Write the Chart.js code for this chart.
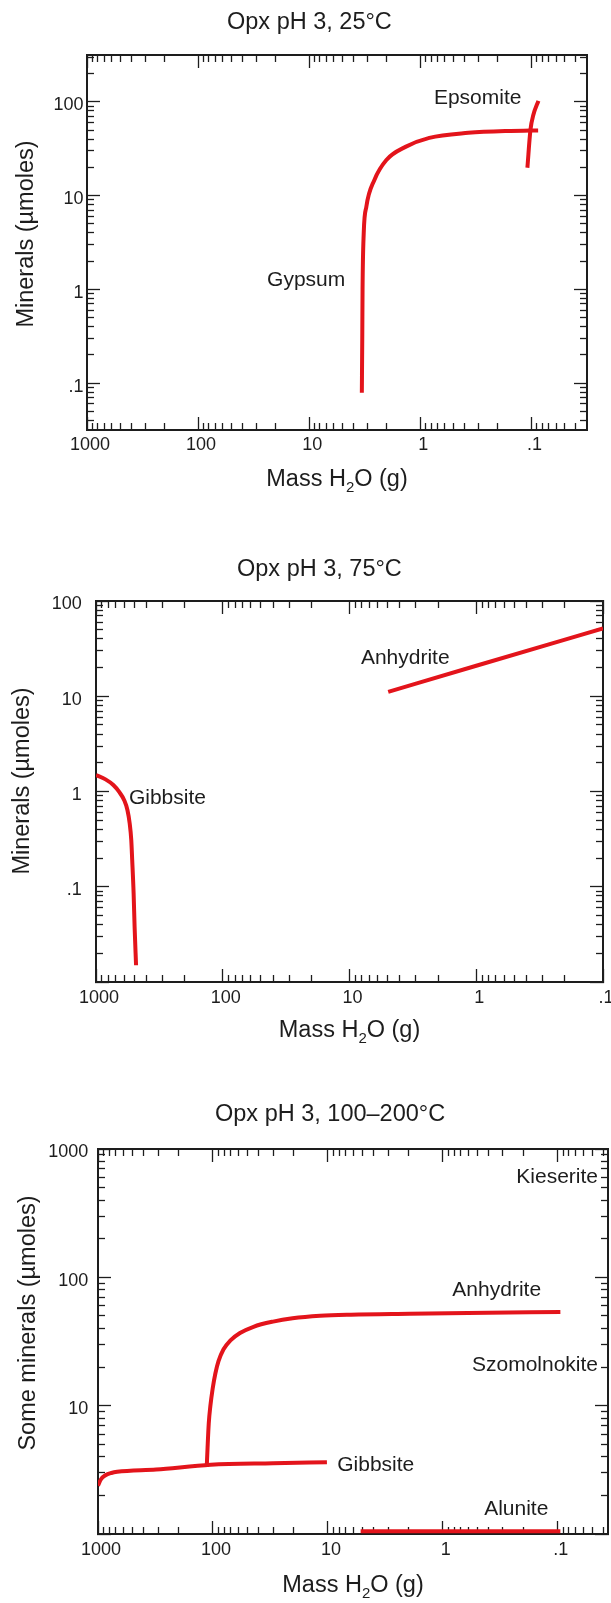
<!DOCTYPE html>
<html>
<head>
<meta charset="utf-8">
<title>Opx pH 3 – mineral precipitation</title>
<script src="https://cdn.jsdelivr.net/npm/chart.js@4.4.1/dist/chart.umd.min.js"></script>
<style>
  html, body { margin: 0; padding: 0; background: #fff; }
  #page { position: relative; width: 611px; height: 1603px; overflow: hidden; }
  #page canvas { position: absolute; left: 0; }
</style>
</head>
<body>
<div id="page">
  <canvas id="c25" width="611" height="520" style="top:0px"></canvas>
  <canvas id="c75" width="611" height="540" style="top:520px"></canvas>
  <canvas id="c200" width="611" height="543" style="top:1060px"></canvas>
</div>
<script>
// --- 25 °C : mass of water left (g) vs. amount precipitated (µmol) ---
const gypsum25Mass   = [3.36, 3.33, 3.31, 3.23, 3.06, 2.59, 2.02, 1.36, 0.83, 0.37, 0.164, 0.102, 0.087];
const gypsum25Umol   = [0.079, 0.3, 1.0, 4.0, 7.6, 14.7, 24.0, 33.1, 41.3, 46.7, 49.0, 49.4, 49.5];
const epsomite25Mass = [0.1087, 0.102, 0.096, 0.0865];
const epsomite25Umol = [19.8, 50.3, 72.7, 102.5];

// --- 75 °C ---
const gibbsite75Mass  = [1000, 841, 730, 656, 599, 565, 542, 527, 518, 505, 496, 483];
const gibbsite75Umol  = [1.49, 1.34, 1.17, 0.99, 0.81, 0.64, 0.46, 0.31, 0.19, 0.086, 0.038, 0.015];
const anhydrite75Mass = [4.95, 1, 0.1];
const anhydrite75Umol = [11.1, 20.9, 51.6];

// --- 100–200 °C ---
const anhydrite200Mass = [113.2, 111.4, 108.8, 105.4, 100.7, 95.3, 89.5, 80.9, 70.8, 58.2, 44.4,
                          30.0, 20.3, 11.7, 6.3, 1.95, 0.607, 0.095];
const anhydrite200Umol = [3.35, 4.71, 7.26, 9.89, 13.5, 17.8, 22.2, 27.5, 32.1, 36.8, 41.2,
                          45.2, 48.0, 50.2, 51.2, 52.0, 52.7, 53.7];
const gibbsite200Mass  = [1000, 945, 861, 765, 681, 312, 104.7, 30, 10.2];
const gibbsite200Umol  = [2.38, 2.66, 2.87, 2.99, 3.05, 3.18, 3.46, 3.56, 3.63];
const alunite200Mass   = [5.19, 0.095];
const alunite200Umol   = [1.05, 1.05];

// axis decades and their printed labels
const massDecades    = [1000, 100, 10, 1, 0.1];
const massLabels     = ['1000', '100', '10', '1', '.1'];
const umol25Decades  = [100, 10, 1, 0.1];
const umol25Labels   = ['100', '10', '1', '.1'];
const umol75Decades  = [100, 10, 1, 0.1, 0.01];
const umol75Labels   = ['100', '10', '1', '.1', ''];
const umol200Decades = [1000, 100, 10, 1];
const umol200Labels  = ['1000', '100', '10', ''];

const FAMILY = '"Liberation Sans", Arial, Helvetica, sans-serif';
const INK = '#1d1d1d';
const RED = '#e3141b';
const STEPS = [2, 3, 4, 5, 6, 7, 8, 9];
const MAJOR = 13, MINOR = 7;

function minorTicks(decades, lim) {
  const out = [];
  decades.concat(decades[decades.length - 1] / 10).forEach(d =>
    STEPS.forEach(k => { const v = d * k; if (v > lim[0] * 1.0001 && v < lim[1] * 0.9999) out.push(v); }));
  return out;
}

// one side of the frame: inward tick marks; the labelled side gets a band of
// `size` px for its numbers, the others take no room at all
function edge(pos, lim, reverse, values, len, labels, pad, size) {
  const horiz = pos === 'top' || pos === 'bottom';
  const map = labels ? Object.fromEntries(values.map((v, i) => [v, labels[i]])) : null;
  return {
    type: 'logarithmic', position: pos, min: lim[0], max: lim[1], reverse,
    weight: map ? 1 : 0,
    afterBuildTicks: s => { s.ticks = values.map(v => ({ value: v })); },
    afterFit: s => {
      if (horiz) s.height = size || 0; else s.width = size || 0;
      s.paddingLeft = s.paddingRight = s.paddingTop = s.paddingBottom = 0;
    },
    grid: { drawOnChartArea: false, drawTicks: true, tickLength: -len, tickColor: INK, tickWidth: 1.3 },
    border: { display: len === MAJOR, color: INK, width: 2 },
    ticks: map ? {
      display: true, autoSkip: false, maxRotation: 0, padding: pad, color: INK,
      labelOffset: horiz ? 3 : 3.5,
      font: { family: FAMILY, size: 18 },
      callback: v => map[v] ?? ''
    } : { display: false }
  };
}

function drawMassTitle(ctx, cx, cy, size) {
  const big = `${size}px ${FAMILY}`, small = `${Math.round(size * 0.64)}px ${FAMILY}`;
  const parts = [['Mass H', big, 0], ['2', small, size * 0.32], ['O (g)', big, 0]];
  let w = 0;
  parts.forEach(p => { ctx.font = p[1]; w += ctx.measureText(p[0]).width; });
  let x = cx - w / 2;
  ctx.textAlign = 'left';
  parts.forEach(p => { ctx.font = p[1]; ctx.fillText(p[0], x, cy + p[2]); x += ctx.measureText(p[0]).width; });
}

const panelText = {
  id: 'panelText',
  afterDraw(chart, args, o) {
    const { ctx, chartArea: a, scales } = chart;
    ctx.save();
    ctx.fillStyle = INK;
    ctx.textBaseline = 'middle';
    ctx.font = `23.5px ${FAMILY}`;
    ctx.textAlign = 'left';
    ctx.fillText(o.title, o.titleX, o.titleY);
    ctx.save();
    ctx.translate(o.yTitleX, o.yTitleY);
    ctx.rotate(-Math.PI / 2);
    ctx.textAlign = 'center';
    ctx.fillText(o.yTitle, 0, 0);
    ctx.restore();
    drawMassTitle(ctx, (a.left + a.right) / 2, o.xTitleY, 23.5);
    ctx.font = `21px ${FAMILY}`;
    o.labels.forEach(l => {
      ctx.textAlign = l.align;
      ctx.fillText(l.text, scales.x.getPixelForValue(l.x), scales.y.getPixelForValue(l.y));
    });
    ctx.restore();
  }
};

function line(mass, umol) {
  return {
    data: mass.map((m, i) => ({ x: m, y: umol[i] })),
    borderColor: RED, borderWidth: 4, pointRadius: 0,
    cubicInterpolationMode: 'monotone',
    fill: false, borderJoinStyle: 'round'
  };
}

function panel(id, p) {
  const xMinor = minorTicks(massDecades, p.xLim);
  const yMinor = minorTicks(p.yDecades, p.yLim);
  new Chart(document.getElementById(id), {
    type: 'line',
    data: { datasets: p.series.map(s => line(s[0], s[1])) },
    options: {
      responsive: false, animation: false, events: [],
      layout: { padding: p.pad },
      plugins: { legend: { display: false }, tooltip: { enabled: false }, panelText: p.text },
      scales: {
        x: edge('bottom', p.xLim, true, massDecades, MAJOR, massLabels, p.xPad, 40),
        xMinor: edge('bottom', p.xLim, true, xMinor, MINOR),
        xTop: edge('top', p.xLim, true, massDecades, MAJOR),
        xTopMinor: edge('top', p.xLim, true, xMinor, MINOR),
        y: edge('left', p.yLim, false, p.yDecades, MAJOR, p.yLabels, p.yPad, p.yBand),
        yMinor: edge('left', p.yLim, false, yMinor, MINOR),
        yRight: edge('right', p.yLim, false, p.yDecades, MAJOR),
        yRightMinor: edge('right', p.yLim, false, yMinor, MINOR)
      }
    },
    plugins: [panelText]
  });
}

panel('c25', {
  xLim: [0.0316, 1000], yLim: [0.0316, 316],
  yDecades: umol25Decades, yLabels: umol25Labels,
  pad: { left: 0, right: 24, top: 55, bottom: 50 }, yBand: 87,
  xPad: 17.2, yPad: 16.5,
  series: [[gypsum25Mass, gypsum25Umol], [epsomite25Mass, epsomite25Umol]],
  text: {
    title: 'Opx pH 3, 25°C', titleX: 227, titleY: 23,
    yTitle: 'Minerals (µmoles)', yTitleX: 27, yTitleY: 234, xTitleY: 480,
    labels: [
      { text: 'Gypsum', x: 4.74, y: 1.26, align: 'right' },
      { text: 'Epsomite', x: 0.123, y: 110, align: 'right' }
    ]
  }
});

panel('c75', {
  xLim: [0.1, 1000], yLim: [0.01, 100],
  yDecades: umol75Decades, yLabels: umol75Labels,
  pad: { left: 0, right: 8, top: 81, bottom: 38 }, yBand: 96,
  xPad: 18, yPad: 27.3,
  series: [[gibbsite75Mass, gibbsite75Umol], [anhydrite75Mass, anhydrite75Umol]],
  text: {
    title: 'Opx pH 3, 75°C', titleX: 237, titleY: 50,
    yTitle: 'Minerals (µmoles)', yTitleX: 22.5, yTitleY: 261, xTitleY: 511,
    labels: [
      { text: 'Anhydrite', x: 8.13, y: 25, align: 'left' },
      { text: 'Gibbsite', x: 550, y: 0.85, align: 'left' }
    ]
  }
});

panel('c200', {
  xLim: [0.0366, 1000], yLim: [1, 1000],
  yDecades: umol200Decades, yLabels: umol200Labels,
  pad: { left: 0, right: 3, top: 89, bottom: 29 }, yBand: 98,
  xPad: 18.2, yPad: 22.7,
  series: [[anhydrite200Mass, anhydrite200Umol], [gibbsite200Mass, gibbsite200Umol], [alunite200Mass, alunite200Umol]],
  text: {
    title: 'Opx pH 3, 100–200°C', titleX: 215, titleY: 55,
    yTitle: 'Some minerals (µmoles)', yTitleX: 29, yTitleY: 263, xTitleY: 526,
    labels: [
      { text: 'Kieserite', x: 0.0447, y: 608, align: 'right' },
      { text: 'Anhydrite', x: 0.34, y: 79.8, align: 'center' },
      { text: 'Szomolnokite', x: 0.0447, y: 20.8, align: 'right' },
      { text: 'Gibbsite', x: 8.3, y: 3.41, align: 'left' },
      { text: 'Alunite', x: 0.23, y: 1.56, align: 'center' }
    ]
  }
});
</script>
</body>
</html>
